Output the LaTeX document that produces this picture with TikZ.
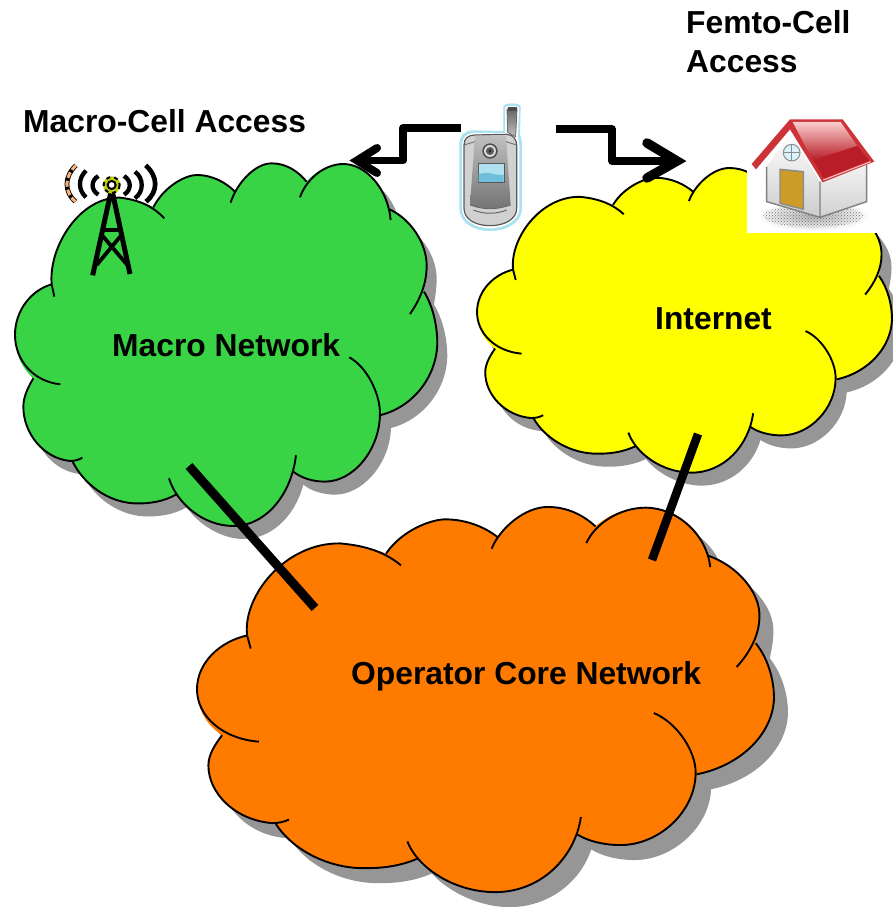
\documentclass[tikz,border=0pt]{standalone}
\usepackage{fontspec}
\usetikzlibrary{patterns}
\setmainfont{Liberation Sans}
\definecolor{cgreen}{HTML}{39D445}
\definecolor{cyellow}{HTML}{FFFF00}
\definecolor{corange}{HTML}{FF7B00}
\definecolor{cshadow}{HTML}{969696}
\definecolor{halo}{RGB}{170,225,240}
\definecolor{roofdark}{RGB}{185,30,40}
\definecolor{roofedge}{RGB}{205,50,55}
\definecolor{rooflight}{RGB}{250,205,205}
\definecolor{door}{RGB}{205,155,40}
\definecolor{towerorange}{RGB}{250,178,125}
\definecolor{dishcolor}{RGB}{190,205,20}
\definecolor{towerblue}{RGB}{70,200,240}
\definecolor{screenlight}{RGB}{175,225,240}
\definecolor{screendark}{RGB}{110,190,220}
\newcommand{\cloudfillpath}{
  (155,403) .. controls (145,290) and (240,140) .. (360,143) .. controls (405,148) and (440,160) .. (460,172)
  .. controls (495,105) and (560,75) .. (590,75) .. controls (640,75) and (680,100) .. (705,125)
  .. controls (740,70) and (780,40) .. (815,40) .. controls (860,40) and (895,65) .. (920,95)
  .. controls (950,60) and (990,42) .. (1030,42) .. controls (1100,42) and (1155,110) .. (1168,178)
  .. controls (1230,205) and (1282,280) .. (1280,350) .. controls (1280,375) and (1276,400) .. (1272,425)
  .. controls (1300,470) and (1312,530) .. (1312,580) .. controls (1310,680) and (1240,770) .. (1143,795)
  .. controls (1140,900) and (1060,995) .. (975,995) .. controls (940,995) and (905,985) .. (880,965)
  .. controls (855,1060) and (785,1128) .. (700,1128) .. controls (640,1128) and (570,1090) .. (530,1033)
  .. controls (490,1055) and (450,1062) .. (400,1060) .. controls (320,1055) and (250,1000) .. (218,935)
  -- (210,933) .. controls (130,925) and (70,850) .. (70,770) .. controls (70,740) and (85,710) .. (100,685)
  .. controls (65,655) and (45,610) .. (45,555) .. controls (45,480) and (95,420) .. (155,403) -- cycle}
\newcommand{\cloudlobes}{
  \draw[cloudline] (163,440) -- (155,403) .. controls (145,290) and (240,140) .. (360,143) .. controls (420,150) and (460,170) .. (493,205);
  \draw[cloudline] (460,172) .. controls (495,105) and (560,75) .. (590,75) .. controls (640,75) and (680,100) .. (705,125);
  \draw[cloudline] (692,158) .. controls (710,100) and (765,40) .. (815,40) .. controls (860,40) and (895,65) .. (920,95);
  \draw[cloudline] (900,142) .. controls (920,85) and (975,42) .. (1030,42) .. controls (1100,42) and (1165,120) .. (1172,210);
  \draw[cloudline] (1168,178) .. controls (1230,205) and (1282,280) .. (1280,350) .. controls (1280,400) and (1260,450) .. (1230,492);
  \draw[cloudline] (1272,425) .. controls (1300,470) and (1312,530) .. (1312,580) .. controls (1310,680) and (1240,770) .. (1143,795);
  \draw[cloudline] (1048,622) .. controls (1100,650) and (1140,730) .. (1140,790) .. controls (1140,900) and (1060,995) .. (975,995) .. controls (940,995) and (905,985) .. (880,965);
  \draw[cloudline] (888,916) .. controls (875,1030) and (800,1128) .. (700,1128) .. controls (610,1128) and (530,1060) .. (507,985);
  \draw[cloudline] (530,1033) .. controls (490,1055) and (450,1062) .. (400,1060) .. controls (320,1055) and (250,1000) .. (218,935);
  \draw[cloudline] (247,923) .. controls (235,930) and (225,933) .. (210,933) .. controls (130,925) and (70,850) .. (70,770) .. controls (70,740) and (85,710) .. (100,685);
  \draw[cloudline] (181,703) .. controls (100,695) and (45,630) .. (45,555) .. controls (45,480) and (95,420) .. (155,403);
}
\newcommand{\cloudat}[7]{
  \begin{scope}[shift={(#1+#6,#2+#7)},xscale=#3,yscale=#4]
    \fill[cshadow] \cloudfillpath;
  \end{scope}
  \begin{scope}[shift={(#1,#2)},xscale=#3,yscale=#4]
    \fill[#5] \cloudfillpath;
    \cloudlobes
  \end{scope}
}
\tikzset{
  x=1pt,y=-1pt,
  cloudline/.style={draw=black,line width=1.9pt,line join=round},
  label/.style={anchor=base west,inner sep=0pt,font=\fontsize{31.8}{34}\selectfont\bfseries},
  link/.style={line width=9pt,black},
  wave/.style={line width=7.5pt,black,line join=round},
  head/.style={line width=9.5pt,black,line cap=round,line join=miter,miter limit=10},
  towerarc/.style={black,line width=4.3pt}
}
\begin{document}
\begin{tikzpicture}
\useasboundingbox (0,0) rectangle (892,907);
\fill[white] (0,0) rectangle (892,907);

\cloudat{0}{150}{0.3333}{0.3333}{cgreen}{10}{13}
\cloudat{462.3}{156.8}{0.3275}{0.28}{cyellow}{10}{13}
\cloudat{176.5}{492.8}{0.4554}{0.354}{corange}{14}{15}

% tower
\begin{scope}[shift={(50,150)},scale=0.3333]
  \draw[towerblue,line width=1.8pt,dash pattern=on 3pt off 1.5pt] (198,180) -- (228,332);
  \draw[black,line width=5pt] (128,376) -- (183,125) (240,372) -- (187,125);
  \draw[black,line width=3.8pt] (165,240) -- (207,240) (140,345) -- (212,258) (232,345) -- (158,258);
  \fill[dishcolor] (185,105) circle (26);
  \draw[black,line width=2pt,dash pattern=on 4pt off 4pt] (185,105) circle (24);
  \fill[white] (185,105) circle (11);
  \draw[black,line width=2pt] (185,105) circle (12);
  \draw[towerarc] (145,78) .. controls (122,92) and (122,120) .. (145,134);
  \draw[towerarc] (108,62) .. controls (84,85) and (84,120) .. (108,142);
  \draw[black,line width=4.7pt] (78,46) .. controls (42,80) and (42,125) .. (76,155);
  \draw[towerorange,line width=3pt,dash pattern=on 6pt off 3pt] (78,46) .. controls (42,80) and (42,125) .. (76,155);
  \draw[towerarc] (222,78) .. controls (245,92) and (245,120) .. (222,134);
  \draw[towerarc] (255,65) .. controls (282,85) and (282,125) .. (255,145);
  \draw[black,line width=4.7pt] (287,46) .. controls (325,80) and (325,125) .. (288,155);
\end{scope}

% phone
\begin{scope}[shift={(440,95)},scale=0.3333]
  \fill[halo] (190,108) -- (190,35) .. controls (190,22) and (242,22) .. (242,35) -- (240,118) .. controls (243,125) and (246,135) .. (246,150) -- (246,340) .. controls (246,382) and (200,408) .. (150,408) .. controls (100,408) and (58,382) .. (58,340) -- (58,150) .. controls (58,120) and (75,106) .. (100,106) -- cycle;
  \fill[white] (195,114) -- (195,40) .. controls (195,30) and (237,30) .. (237,40) -- (234,125) -- (238,150) -- (238,340) .. controls (238,375) and (195,400) .. (150,400) .. controls (105,400) and (66,375) .. (66,340) -- (66,150) .. controls (66,130) and (80,114) .. (100,114) -- cycle;
  \shade[top color=black!60,bottom color=black!25,draw=black!60,line width=0.8pt] (203,112) -- (201,42) -- (231,42) -- (227,125) -- cycle;
  \fill[black!70] (203,35) rectangle (230,47);
  \filldraw[fill=black!18,draw=black!65,line width=1.2pt] (72,150) .. controls (72,130) and (85,120) .. (105,120) -- (200,118) .. controls (220,118) and (230,135) .. (230,150) -- (230,340) .. controls (230,372) and (195,392) .. (150,392) .. controls (105,392) and (72,372) .. (72,340) -- cycle;
  \shade[top color=black!25,bottom color=black!55] (105,122) -- (198,122) -- (212,330) .. controls (170,345) and (130,345) .. (90,330) -- cycle;
  \draw[black!60,line width=0.8pt] (72,150) -- (105,140) (230,150) -- (198,140) (90,330) .. controls (130,345) and (170,345) .. (212,330);
  \draw[black!60,line width=1pt] (100,345) .. controls (130,358) and (170,358) .. (200,345);
  \fill[black!70] (150,168) circle (23);
  \fill[black!15] (150,168) circle (18);
  \fill[black!65] (150,168) circle (12);
  \fill[black!85] (150,168) circle (4);
  \filldraw[fill=screenlight,draw=black!65,line width=1pt] (114,205) rectangle (193,263);
  \fill[screendark] (116,238) .. controls (150,225) and (170,245) .. (191,240) -- (191,261) -- (116,261) -- cycle;
\end{scope}

% house
\fill[white] (747,116) rectangle (880,233);
\begin{scope}[shift={(740,110)},scale=0.3333]
  \shade[inner color=black!30,outer color=white] (220,318) ellipse (170 and 45);
  \fill[pattern=crosshatch dots,pattern color=black!55] (220,318) ellipse (150 and 34);
  \shade[top color=black!5,bottom color=black!18] (240,215) -- (380,165) -- (380,275) -- (240,322) -- cycle;
  \shade[top color=white,bottom color=black!20] (80,170) -- (150,70) -- (240,215) -- (240,322) -- (80,275) -- cycle;
  \draw[black!50,line width=1.4pt] (80,170) -- (80,275) -- (240,322) -- (380,275) -- (380,165) (240,215) -- (240,322);
  \fill[door] (120,178) -- (190,185) -- (190,298) -- (120,280) -- cycle;
  \draw[black!45,line width=1.4pt] (120,178) -- (190,185) -- (190,298) -- (120,280) -- cycle;
  \draw[black!45,line width=1pt,fill=cyan!15] (155,128) circle (25);
  \draw[black!45,line width=1pt] (130,128) -- (180,128) (155,103) -- (155,153);
  \fill[roofedge] (35,162) -- (150,28) -- (308,28) -- (403,155) -- (248,217) -- (150,58) -- (48,178) -- cycle;
  \shade[top color=rooflight,bottom color=roofdark] (158,36) -- (302,36) -- (352,108) -- (218,150) -- cycle;
  \fill[roofdark] (218,150) -- (352,108) -- (388,152) -- (252,205) -- cycle;
  \draw[rooflight,line width=1pt] (250,210) -- (392,155);
\end{scope}

% connector ends
\coordinate (macroEnd) at (189,466);
\coordinate (coreA) at (315,608);
\coordinate (inetEnd) at (698,434);
\coordinate (coreB) at (652,560);
\coordinate (phoneL) at (461,128);
\coordinate (kneeLa) at (403,128);
\coordinate (kneeLb) at (403,160.5);
\coordinate (tipL) at (357,160.5);
\coordinate (phoneR) at (556,129);
\coordinate (kneeRa) at (612,129);
\coordinate (kneeRb) at (612,161);
\coordinate (tipR) at (677,161);

\draw[link] (macroEnd) -- (coreA);
\draw[link,line width=8.5pt] (inetEnd) -- (coreB);
\draw[wave] (phoneL) -- (kneeLa) -- (kneeLb) -- (tipL);
\draw[head,line width=8pt] (377,148) -- (tipL) -- (377,173);
\draw[wave] (phoneR) -- (kneeRa) -- (kneeRb) -- (tipR);
\draw[head] (647,143) -- (tipR) -- (647,178);

% labels
\node[label] (macroAccess) at (23,132) {Macro-Cell Access};
\node[label] (femtoA) at (686,34) {Femto-Cell};
\node[label] (femtoB) at (686,72) {Access};
\node[label] (macroNet) at (112,356) {Macro Network};
\node[label] (internet) at (655,329) {Internet};
\node[label] (coreNet) at (351,684) {Operator Core Network};
\end{tikzpicture}
\end{document}
